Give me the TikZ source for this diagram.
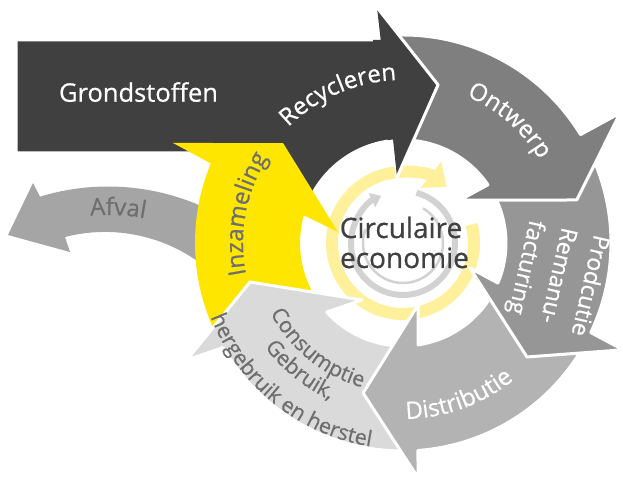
\documentclass[tikz,border=0pt]{standalone}
\usepackage{fontspec}
\usetikzlibrary{arrows.meta,decorations.text}

\newfontfamily\eyfont[FakeBold=0.6]{Open Sans}
\newcommand\ringfont{\eyfont\fontsize{24}{28}\selectfont}
\newcommand\smallringfont{\eyfont\fontsize{21.5}{26}\selectfont}
\newcommand\groundfont{\eyfont\fontsize{25.5}{30}\selectfont}
\newcommand\centerfont{\eyfont\fontsize{28}{30}\selectfont}
\newcommand\prodfont{\eyfont\fontsize{23}{33}\selectfont}

\definecolor{eydark}{HTML}{404040}
\definecolor{eyontwerp}{HTML}{7F7F7F}
\definecolor{eyproductie}{HTML}{969696}
\definecolor{eydistributie}{HTML}{B3B3B3}
\definecolor{eyconsumptie}{HTML}{DADADA}
\definecolor{eyafval}{HTML}{A5A5A5}
\definecolor{eyyellow}{HTML}{FFE600}
\definecolor{eyringyellow}{HTML}{FFF09C}
\definecolor{eyringgray}{HTML}{D2D2D2}
\definecolor{eytextgray}{HTML}{6E6E6E}
\definecolor{eytextdark}{HTML}{404040}

\begin{document}
\begin{tikzpicture}[x=1pt, y=1pt,
    band/.style={draw=white, line width=3pt, line join=round},
    curvedtext/.style 2 args={decorate, decoration={text along path,
        text align=center, text color=#1, text={#2}}}]

\fill[white] (0,0) rectangle (623,481);
\useasboundingbox (0,0) rectangle (623,481);

% Afval arrow, bending off to the left
\coordinate (afvalout) at (108,62);
\coordinate (afvalin) at (105,88);
\fill[eyafval] ([shift={(56.9:232.5)}]afvalout) arc[start angle=56.9, end angle=107, radius=232.5]
    -- (33,298) -- (8,246) -- (70,229) -- (65,244)
    arc[start angle=104.4, end angle=41.8, radius=161] -- cycle;

\begin{scope}[shift={(403,238)}]
    % rings in the middle
    \draw[eyringyellow, line width=12pt, -{Triangle[width=32pt,length=20pt]}]
        (15:71) arc[start angle=15, end angle=-308, radius=71];
    \draw[eyringgray, line width=6pt, -{Triangle[width=15pt,length=10pt]}]
        (75:52) arc[start angle=75, end angle=-245, radius=52];
    \draw[eyringgray, line width=2.5pt] (60:40) arc[start angle=60, end angle=-200, radius=40];

    % Grondstoffen / Recycleren
    \path[band, fill=eydark] (-387,203) -- (-22.3,203) -- (96.3:237) -- (77.5:162) -- (95.2:66)
        -- (95.5:103) arc[start angle=95.5, end angle=162, radius=103]
        -- (-153,90) -- (-387,90) -- cycle;

    % Inzameling
    \fill[eyyellow] (209:208) arc[start angle=209, end angle=157.5, radius=208]
        -- (156.5:250.8) -- (140.2:156.2) -- (170.4:65.9)
        -- (164.4:103) arc[start angle=164.4, end angle=209, radius=103] -- cycle;

    % Consumptie
    \path[band, fill=eyconsumptie] (-88:208) arc[start angle=-88, end angle=-149.8, radius=208]
        -- (-151.6:245.6) -- (-165.7:157.9) -- (-125.7:70.2)
        -- (-137.9:103) arc[start angle=-137.9, end angle=-88, radius=103] -- cycle;

    % Distributie
    \path[band, fill=eydistributie] (-30:208) arc[start angle=-30, end angle=-85.9, radius=208]
        -- (-86.3:235.5) -- (-104.9:155.2) -- (-76.4:63.8)
        -- (-81.6:103) arc[start angle=-81.6, end angle=-30, radius=103] -- cycle;

    % Productie
    \path[band, fill=eyproductie] (27:208) arc[start angle=27, end angle=-25.5, radius=208]
        -- (-25.9:244.6) -- (-42.6:168.4) -- (-20.5:71.5)
        -- (-22.9:103) arc[start angle=-22.9, end angle=27, radius=103] -- cycle;

    % Ontwerp
    \path[band, fill=eyontwerp] (93:208) arc[start angle=93, end angle=31.4, radius=208]
        -- (30.9:253) -- (13.9:179) -- (37:71.4)
        -- (34.4:103) arc[start angle=34.4, end angle=93, radius=103] -- cycle;

    % head of the dark arrow again, over the tail of Ontwerp
    \fill[eydark] (98.5:104) -- (-30,203) -- (-22.3,203) -- (96.3:237) -- (77.5:162)
        -- (95.2:66) -- (95.5:104) -- cycle;
    \draw[white, line width=3pt, line join=round] (96.3:237) -- (77.5:162) -- (95.2:66);

    % labels along the ring
    \path[curvedtext={white}{|\ringfont|Recycleren}]
        (153.5:163) arc[start angle=153.5, end angle=73.5, radius=163];
    \path[curvedtext={white}{|\ringfont|Ontwerp}]
        (89:160) arc[start angle=89, end angle=9, radius=160];
    \path[curvedtext={white}{|\ringfont|Distributie}]
        (-110:176) arc[start angle=-110, end angle=-30, radius=176];
    \path[curvedtext={eytextgray}{|\ringfont|Inzameling}]
        (209.5:160) arc[start angle=209.5, end angle=129.5, radius=160];
    \path[curvedtext={eytextgray}{|\smallringfont|Consumptie}]
        (-169:150) arc[start angle=-169, end angle=-89, radius=150];
    \path[curvedtext={eytextgray}{|\smallringfont|Gebruik,}]
        (-169:173) arc[start angle=-169, end angle=-89, radius=173];
    \path[curvedtext={eytextgray}{|\smallringfont|hergebruik en herstel}]
        (-169:206) arc[start angle=-169, end angle=-89, radius=206];
\end{scope}

\path[curvedtext={eytextgray}{|\ringfont|Afval}]
    ([shift={(117.25:204)}]afvalout) arc[start angle=117.25, end angle=57.25, radius=204];

\node[anchor=base, text=white, font=\groundfont] (grond) at (138.5,379.3) {Grondstoffen};
\node[text=white, font=\prodfont, align=left, rotate=-102.8] (prod) at (556.5,203)
    {Prodcutie\\Remanu-\\facturing};
\node[anchor=base, text=eytextdark, font=\centerfont] (circ) at (401,243) {Circulaire};
\node[anchor=base, text=eytextdark, font=\centerfont] (econ) at (404.5,213) {economie};

\end{tikzpicture}
\end{document}
